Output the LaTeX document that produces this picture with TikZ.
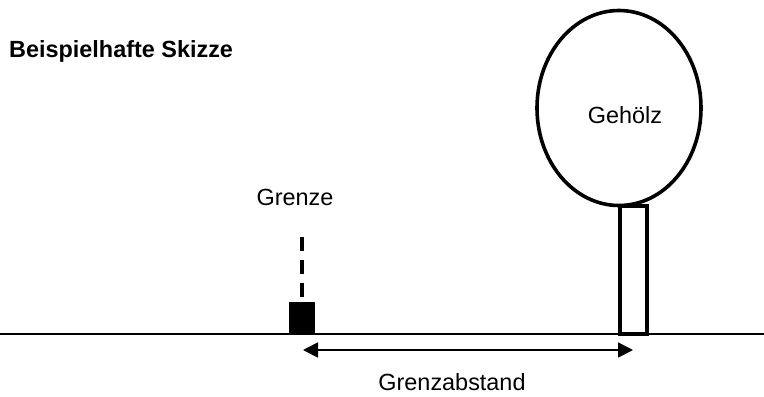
\documentclass[tikz,border=0pt]{standalone}
\usepackage{fontspec}
\setmainfont{Liberation Sans}
\usetikzlibrary{arrows.meta,shapes.geometric}

\tikzset{
  beschriftung/.style={font=\fontsize{23.5}{28}\selectfont, inner sep=0pt},
  dick/.style={line width=3.6bp},
}

\begin{document}
\begin{tikzpicture}[x=1bp,y=-1bp]
\useasboundingbox (0,0) rectangle (764,396);
%titel
\node[beschriftung, font=\fontsize{23.5}{28}\selectfont\bfseries, anchor=west] (titel) at (9,51) {Beispielhafte Skizze};
%boden
\coordinate (bodenlinks) at (0,334);
\coordinate (bodenrechts) at (764,334);
\draw[line width=1.7bp] (bodenlinks) -- (bodenrechts);
%grenze
\node[fill=black, minimum width=26bp, minimum height=32bp, inner sep=0pt] (grenzstein) at (302,317.5) {};
\coordinate (grenzoben) at (302,237);
\draw[line width=3.2bp, dash pattern=on 14bp off 9bp, shorten >=4bp] (grenzoben) -- (grenzstein.north);
\node[beschriftung] (grenze) at (295,197) {Grenze};
%gehoelz
\node[ellipse, draw, dick, minimum width=164bp, minimum height=195bp] (krone) at (619,108) {};
\node[beschriftung] (gehoelz) at (625,115) {Gehölz};
\node[draw, dick, fill=white, minimum width=27bp, minimum height=128bp, inner sep=0pt] (stamm) at (633.5,270) {};
%abstand
\coordinate (abstandlinks) at (303,350);
\coordinate (abstandrechts) at (633,350);
\draw[line width=1.7bp, {Triangle[length=15bp,width=15bp]}-{Triangle[length=15bp,width=15bp]}] (abstandlinks) -- (abstandrechts);
\node[beschriftung] (grenzabstand) at (452,382.5) {Grenzabstand};
\end{tikzpicture}
\end{document}
